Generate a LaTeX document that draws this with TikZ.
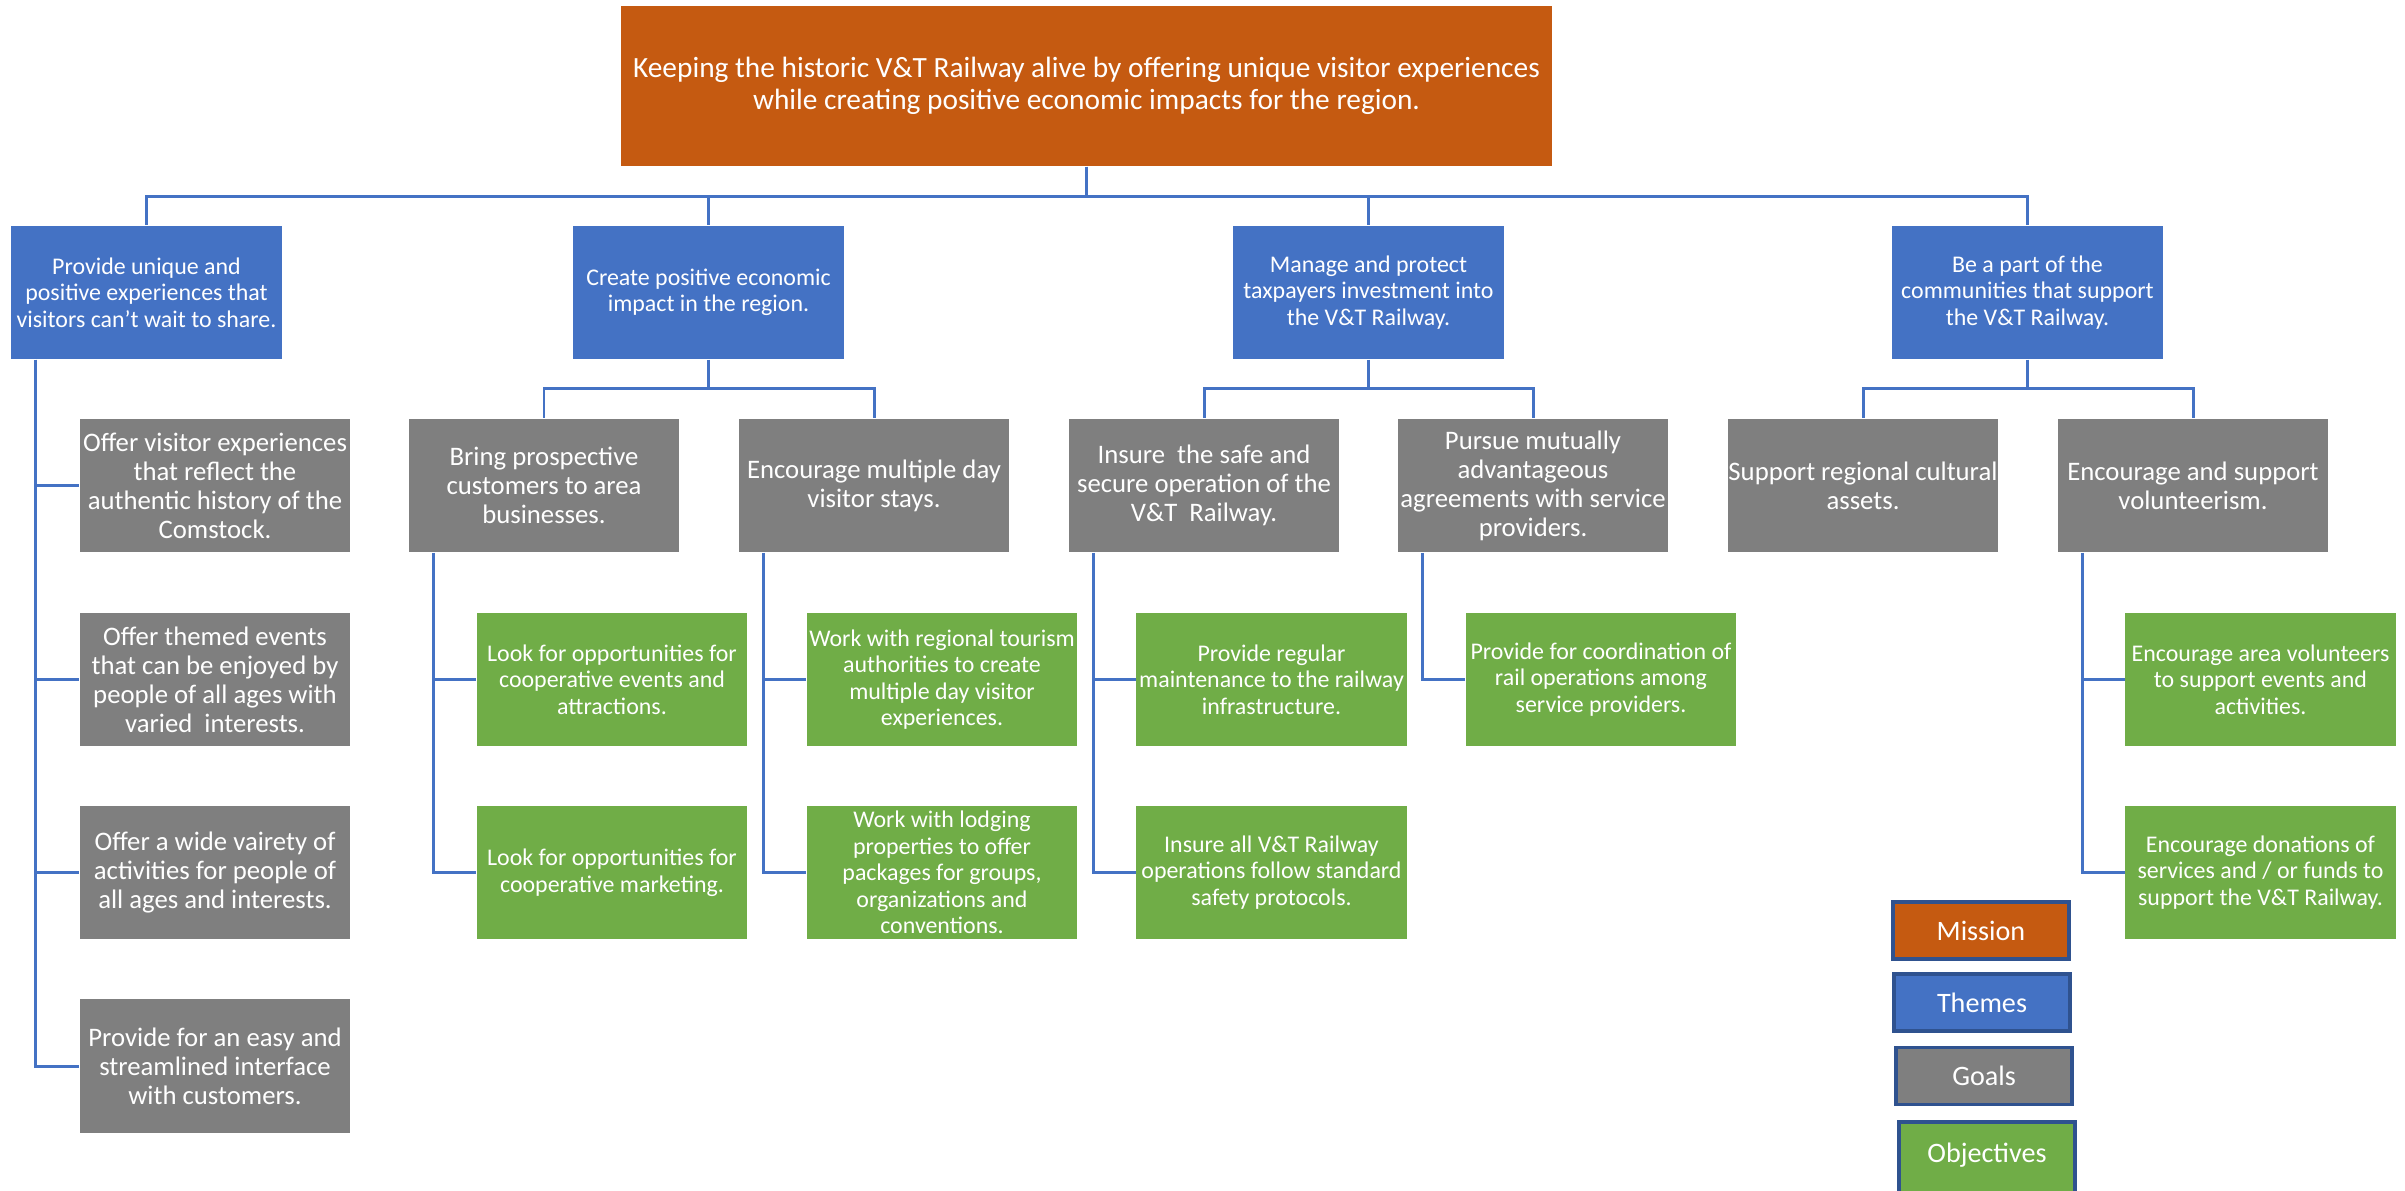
\documentclass[tikz,border=0pt]{standalone}
\usepackage{fontspec}
\setmainfont{Carlito}

\definecolor{missionorange}{HTML}{C55A11}
\definecolor{themeblue}{HTML}{4472C4}
\definecolor{goalgray}{HTML}{7F7F7F}
\definecolor{objgreen}{HTML}{70AD47}
\definecolor{linkblue}{HTML}{4472C4}
\definecolor{keyedge}{HTML}{2F528F}

\tikzset{
  box/.style={inner sep=0pt, align=center, text=white, minimum width=2.70cm},
  mission/.style={box, fill=missionorange, minimum width=9.31cm, minimum height=1.60cm,
    font=\fontsize{8.35pt}{9.1pt}\selectfont},
  theme/.style={box, fill=themeblue, minimum height=1.33cm, font=\fontsize{6.8pt}{7.5pt}\selectfont},
  goal/.style={box, fill=goalgray, minimum height=1.33cm, font=\fontsize{7.6pt}{8.25pt}\selectfont},
  objective/.style={box, fill=objgreen, minimum height=1.33cm, font=\fontsize{6.8pt}{7.55pt}\selectfont},
  key/.style={box, draw=keyedge, line width=0.9pt, minimum width=1.76cm, minimum height=0.57cm,
    font=\fontsize{8pt}{9.6pt}\selectfont},
  link/.style={draw=linkblue, line width=0.85pt},
}

\begin{document}
\begin{tikzpicture}[x=0.01cm, y=-0.01cm]

  \useasboundingbox (0,0) rectangle (2405,1190);

  % mission
  \node[mission] (mission) at (1086.5,86) {Keeping the historic V\&T Railway alive by offering unique visitor experiences\\while creating positive economic impacts for the region.};

  % themes
  \node[theme] (tA) at (146.5,292.5) {Provide unique and\\positive experiences that\\visitors can't wait to share.};
  \node[theme] (tB) at (708.5,292.5) {Create positive economic\\impact in the region.};
  \node[theme] (tC) at (1368.5,292.5) {Manage and protect\\taxpayers investment into\\the V\&T Railway.};
  \node[theme] (tD) at (2027.5,292.5) {Be a part of the\\communities that support\\the V\&T Railway.};

  % goals
  \node[goal] (gA1) at (215,485.5) {Offer visitor experiences\\that reflect the\\authentic history of the\\Comstock.};
  \node[goal] (gA2) at (215,679.5) {Offer themed events\\that can be enjoyed by\\people of all ages with\\varied\ \ interests.};
  \node[goal] (gA3) at (215,872.5) {Offer a wide vairety of\\activities for people of\\all ages and interests.};
  \node[goal] (gA4) at (215,1066) {Provide for an easy and\\streamlined interface\\with customers.};

  \node[goal] (gB1) at (544,485.5) {Bring prospective\\customers to area\\businesses.};
  \node[goal] (gB2) at (874,485.5) {Encourage multiple day\\visitor stays.};
  \node[goal] (gC1) at (1204,485.5) {Insure\ \ the safe and\\secure operation of the\\V\&T\ \ Railway.};
  \node[goal] (gC2) at (1533,485.5) {Pursue mutually\\advantageous\\agreements with service\\providers.};
  \node[goal] (gD1) at (1863,485.5) {Support regional cultural\\assets.};
  \node[goal] (gD2) at (2193,485.5) {Encourage and support\\volunteerism.};

  % objectives
  \node[objective] (oB1a) at (612,679.5) {Look for opportunities for\\cooperative events and\\attractions.};
  \node[objective] (oB1b) at (612,872.5) {Look for opportunities for\\cooperative marketing.};
  \node[objective] (oB2a) at (942,679.5) {Work with regional tourism\\authorities to create\\multiple day visitor\\experiences.};
  \node[objective] (oB2b) at (942,872.5) {Work with lodging\\properties to offer\\packages for groups,\\organizations and\\conventions.};
  \node[objective] (oC1a) at (1271.5,679.5) {Provide regular\\maintenance to the railway\\infrastructure.};
  \node[objective] (oC1b) at (1271.5,872.5) {Insure all V\&T Railway\\operations follow standard\\safety protocols.};
  \node[objective] (oC2a) at (1601,679.5) {Provide for coordination of\\rail operations among\\service providers.};
  \node[objective] (oD2a) at (2260.5,679.5) {Encourage area volunteers\\to support events and\\activities.};
  \node[objective] (oD2b) at (2260.5,872.5) {Encourage donations of\\services and / or funds to\\support the V\&T Railway.};

  % mission to themes
  \foreach \t in {tA,tB,tC,tD}
    \draw[link] (mission.south) -- ++(0,30) -| (\t.north);

  % themes to goals
  \foreach \t/\g in {tB/gB1,tB/gB2,tC/gC1,tC/gC2,tD/gD1,tD/gD2}
    \draw[link] (\t.south) -- ++(0,29) -| (\g.north);
  \foreach \g in {gA1,gA2,gA3,gA4}
    \draw[link] ([xshift=0.25cm]tA.south west) |- (\g.west);

  % goals to objectives
  \foreach \g/\o in {gB1/oB1a,gB1/oB1b,gB2/oB2a,gB2/oB2b,gC1/oC1a,gC1/oC1b,gC2/oC2a,gD2/oD2a,gD2/oD2b}
    \draw[link] ([xshift=0.25cm]\g.south west) |- (\o.west);

  % key
  \node[key, fill=missionorange] (kMission) at (1981,930.5) {Mission};
  \node[key, fill=themeblue] (kThemes) at (1982,1002.5) {Themes};
  \node[key, fill=goalgray] (kGoals) at (1984,1076) {Goals};
  \node[key, fill=objgreen, minimum height=0.74cm, text depth=0.12cm] (kObjectives) at (1987,1159) {Objectives};

\end{tikzpicture}
\end{document}
